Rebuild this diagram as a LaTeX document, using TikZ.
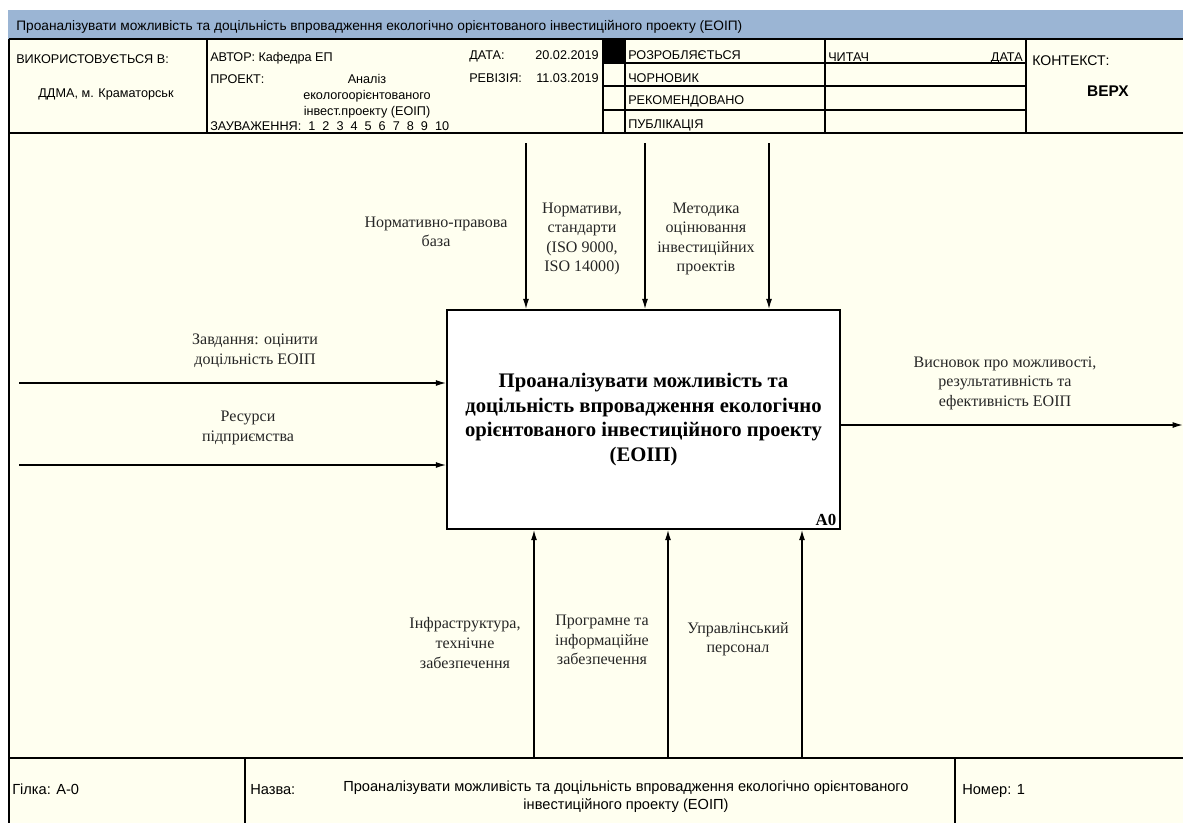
\documentclass[tikz,border=0pt]{standalone}
\usepackage{fontspec}
\setmainfont{Liberation Serif}
\newfontfamily\hdrfont{Liberation Sans}
\usepackage{xcolor}
\usepackage{tikz}
\usetikzlibrary{arrows.meta}
\definecolor{paper}{RGB}{255,255,240}
\definecolor{titlebar}{RGB}{155,181,212}

\begin{document}
\begin{tikzpicture}[x=0.025cm,y=-0.025cm,
  lbl/.style={align=center,text=black!85,font=\fontsize{11.4}{13.9}\selectfont},
  hdr/.style={anchor=base west,inner sep=0pt,font=\hdrfont\fontsize{9}{12.5}\selectfont},
  ftr/.style={hdr,font=\hdrfont\fontsize{10.4}{12.8}\selectfont},
  flow/.style={line width=1pt,-{Latex[length=2.6mm,width=1.5mm]}},
  gridline/.style={line width=0.9pt}]
\useasboundingbox (0,0) rectangle (1183,823);
\fill[white] (0,0) rectangle (1183,823);
\fill[paper] (8,39) rectangle (1183,823);
\fill[titlebar] (8,10) rectangle (1183,39);

% title and header form
\node[hdr,font=\hdrfont\fontsize{9.75}{12}\selectfont] (T) at (16,30) {Проаналізувати можливість та доцільність впровадження екологічно орієнтованого інвестиційного проекту (ЕОІП)};
\draw[gridline] (9,39) -- (1183,39);
\draw[gridline] (9,39) -- (9,823);
\draw[gridline] (9,133) -- (1183,133);
\draw[gridline] (9,758) -- (1183,758);
\foreach \x in {207,603,625,825,1026}
  \draw[gridline] (\x,39) -- (\x,133);
\foreach \y in {63,86,110}
  \draw[gridline] (603,\y) -- (1026,\y);
\fill (603,40) rectangle (625,63);

\node[hdr] (U) at (16,63.5) {ВИКОРИСТОВУЄТЬСЯ В:};
\node[hdr,anchor=base] (U1) at (106,97.5) {ДДМА, м. Краматорськ};
\node[hdr] (Au) at (210,61) {АВТОР: Кафедра ЕП};
\node[hdr] (Pr) at (210,83) {ПРОЕКТ:};
\node[hdr,anchor=center,align=center,font=\hdrfont\fontsize{9}{11.4}\selectfont] (Pr1) at (367,96) {Аналіз\\екологоорієнтованого\\інвест.проекту (ЕОІП)};
\node[hdr] (Nt) at (210,130) {ЗАУВАЖЕННЯ:\ \ 1\ \ 2\ \ 3\ \ 4\ \ 5\ \ 6\ \ 7\ \ 8\ \ 9\ \ 10};
\node[hdr] (D) at (469,59.5) {ДАТА:};
\node[hdr,anchor=base east] (D1) at (599,59.5) {20.02.2019};
\node[hdr] (R) at (469,82.5) {РЕВІЗІЯ:};
\node[hdr,anchor=base east] (R1) at (599,82.5) {11.03.2019};
\node[hdr] (S1) at (628,59.5) {РОЗРОБЛЯЄТЬСЯ};
\node[hdr] (S2) at (628,82.5) {ЧОРНОВИК};
\node[hdr] (S3) at (628,104.5) {РЕКОМЕНДОВАНО};
\node[hdr] (S4) at (628,128) {ПУБЛІКАЦІЯ};
\node[hdr] (Rd) at (828,61) {ЧИТАЧ};
\node[hdr,anchor=base east] (Rd1) at (1023,61) {ДАТА};
\node[hdr,font=\hdrfont\fontsize{10}{12}\selectfont] (K) at (1032,65) {КОНТЕКСТ:};
\node[hdr,anchor=base,font=\hdrfont\bfseries\fontsize{11}{13}\selectfont] (K1) at (1108,96) {ВЕРХ};

% footer
\draw[gridline] (245,758) -- (245,823);
\draw[gridline] (955,758) -- (955,823);
\node[ftr] (F1) at (12,794) {Гілка: А-0};
\node[ftr] (F2) at (250,794) {Назва:};
\node[ftr,anchor=center,align=center] (F3) at (626,797) {Проаналізувати можливість та доцільність впровадження екологічно орієнтованого\\інвестиційного проекту (ЕОІП)};
\node[ftr] (F4) at (962,794) {Номер: 1};

% activity box
\node[draw,fill=white,line width=1pt,minimum width=9.825cm,minimum height=5.475cm,align=center,
  font=\bfseries\fontsize{14.7}{17.6}\selectfont] (A0) at (643.5,419.5)
  {Проаналізувати можливість та\\доцільність впровадження екологічно\\орієнтованого інвестиційного проекту\\(ЕОІП)};
\node[anchor=south east,inner sep=3pt,font=\bfseries\fontsize{12}{14}\selectfont] (A0n) at (A0.south east) {A0};

% controls
\coordinate (c1) at (526,143);
\coordinate (c2) at (645,143);
\coordinate (c3) at (769,143);
\draw[flow] (c1) -- (c1 |- A0.north);
\draw[flow] (c2) -- (c2 |- A0.north);
\draw[flow] (c3) -- (c3 |- A0.north);
\node[lbl] (lc1) at (436,232) {Нормативно-правова\\база};
\node[lbl] (lc2) at (582,239) {Нормативи,\\стандарти\\(ISO 9000,\\ISO 14000)};
\node[lbl] (lc3) at (706,239) {Методика\\оцінювання\\інвестиційних\\проектів};

% inputs
\coordinate (i1) at (19,383);
\coordinate (i2) at (19,465);
\draw[flow] (i1) -- (i1 -| A0.west);
\draw[flow] (i2) -- (i2 -| A0.west);
\node[lbl] (li1) at (255,351) {Завдання: оцінити\\доцільність ЕОІП};
\node[lbl] (li2) at (248,428) {Ресурси\\підприємства};

% output
\coordinate (o1) at (1183,425);
\draw[flow] (o1 -| A0.east) -- (o1);
\node[lbl] (lo1) at (1005,383) {Висновок про можливості,\\результативність та\\ефективність ЕОІП};

% mechanisms
\coordinate (m1) at (534,758);
\coordinate (m2) at (668,758);
\coordinate (m3) at (802,758);
\draw[flow] (m1) -- (m1 |- A0.south);
\draw[flow] (m2) -- (m2 |- A0.south);
\draw[flow] (m3) -- (m3 |- A0.south);
\node[lbl] (lm1) at (465,643) {Інфраструктура,\\технічне\\забезпечення};
\node[lbl] (lm2) at (602,640) {Програмне та\\інформаційне\\забезпечення};
\node[lbl] (lm3) at (738,639) {Управлінський\\персонал};
\end{tikzpicture}
\end{document}
